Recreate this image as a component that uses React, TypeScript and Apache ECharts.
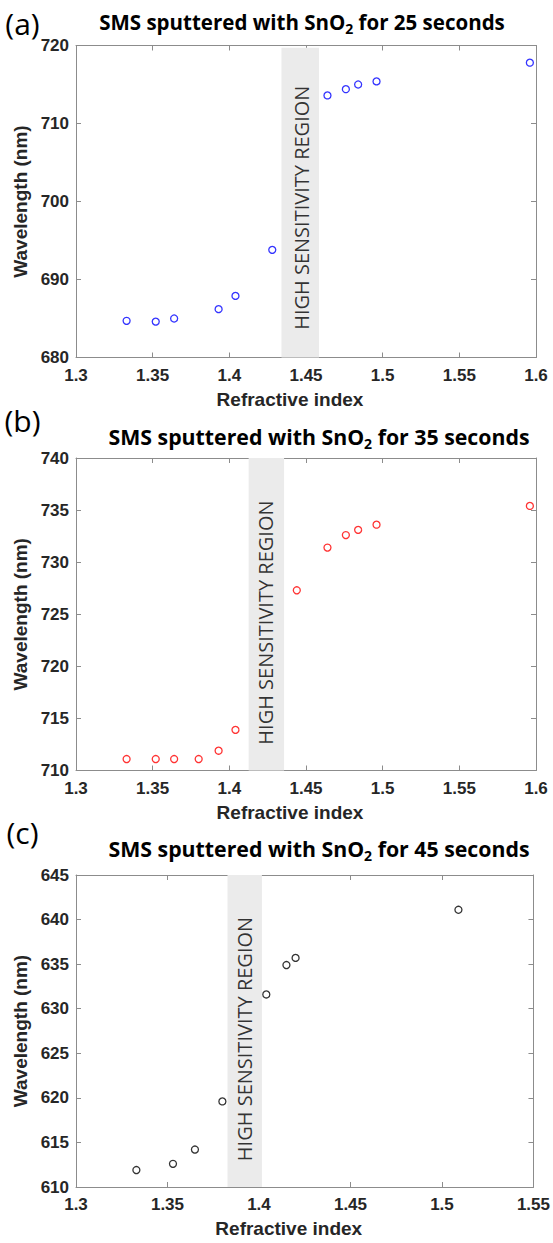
import React, { useEffect, useRef } from "react";
import * as echarts from "echarts";

// Panel (a): 25 s
const X_A = [1.333, 1.352, 1.364, 1.393, 1.404, 1.428, 1.464, 1.476, 1.484, 1.496, 1.596];
const Y_A = [684.7, 684.6, 685.0, 686.2, 687.9, 693.8, 713.6, 714.4, 715.0, 715.4, 717.8];
// Panel (b): 35 s
const X_B = [1.333, 1.352, 1.364, 1.38, 1.393, 1.404, 1.444, 1.464, 1.476, 1.484, 1.496, 1.596];
const Y_B = [711.1, 711.1, 711.1, 711.1, 711.9, 713.9, 727.3, 731.4, 732.6, 733.1, 733.6, 735.4];
// Panel (c): 45 s
const X_C = [1.333, 1.353, 1.365, 1.38, 1.404, 1.415, 1.42, 1.509];
const Y_C = [611.9, 612.6, 614.2, 619.6, 631.6, 634.9, 635.7, 641.1];

const SHADE_A = [1.434, 1.4585];
const SHADE_B = [1.4126, 1.4357];
const SHADE_C = [1.3828, 1.4016];

const LABEL_POS_A = [1.4473, 699.2];
const LABEL_POS_B = [1.4239, 724.2];
const LABEL_POS_C = [1.3923, 626.6];

const PANEL_LABELS = ["(a)", "(b)", "(c)"];
const SECONDS = ["25", "35", "45"];
const REGION_TEXT = "HIGH SENSITIVITY REGION";
const X_NAME = "Refractive index";
const Y_NAME = "Wavelength (nm)";

const X_RANGES = [
  [1.3, 1.6, 0.05],
  [1.3, 1.6, 0.05],
  [1.3, 1.55, 0.05],
];
const Y_RANGES = [
  [680, 720, 10],
  [710, 740, 5],
  [610, 645, 5],
];

const COLORS = ["#0000ff", "#ff0000", "#000000"];

export default function App() {
  const ref = useRef<HTMLDivElement>(null);
  useEffect(() => {
    if (!ref.current) return;
    const chart = echarts.init(ref.current, undefined, { renderer: "svg" });
    const AX = "#8c8c8c";
    const LBL = "#262626";
    const grids = [
      { left: 76, top: 45.5, width: 460, height: 312 },
      { left: 76, top: 458, width: 460, height: 312.5 },
      { left: 76, top: 875, width: 460, height: 312 },
    ];
    const xs = [X_A, X_B, X_C];
    const ys = [Y_A, Y_B, Y_C];
    const shades = [SHADE_A, SHADE_B, SHADE_C];
    const labelPos = [LABEL_POS_A, LABEL_POS_B, LABEL_POS_C];
    const shadeTop = [719.7, 740, 645];

    const xAxis: any[] = [];
    const yAxis: any[] = [];
    const series: any[] = [];
    grids.forEach((g, i) => {
      const [xmin, xmax, xint] = X_RANGES[i];
      const [ymin, ymax, yint] = Y_RANGES[i];
      const common = {
        gridIndex: i,
        type: "value",
        splitLine: { show: false },
        axisLine: { show: true, onZero: false, lineStyle: { color: AX, width: 1 } },
        axisTick: { show: true, inside: true, length: 5, lineStyle: { color: AX } },
      };
      xAxis.push({
        ...common,
        position: "bottom",
        min: xmin,
        max: xmax,
        interval: xint,
        name: X_NAME,
        nameLocation: "middle",
        nameGap: 32,
        nameTextStyle: {
          fontSize: 19,
          fontWeight: "bold",
          color: LBL,
          fontFamily: "Liberation Sans",
          padding: [0, 32, 0, 0],
        },
        axisLabel: {
          fontSize: 17,
          fontWeight: "bold",
          color: LBL,
          fontFamily: "Liberation Sans",
          margin: 9,
          formatter: (v: number) => String(Math.round(v * 100) / 100),
        },
      });
      xAxis.push({
        ...common,
        position: "top",
        min: xmin,
        max: xmax,
        interval: xint,
        axisLabel: { show: false },
      });
      yAxis.push({
        ...common,
        position: "left",
        min: ymin,
        max: ymax,
        interval: yint,
        name: Y_NAME,
        nameLocation: "middle",
        nameGap: 36,
        nameTextStyle: {
          fontSize: 19,
          fontWeight: "bold",
          color: LBL,
          fontFamily: "Liberation Sans",
        },
        axisLabel: {
          fontSize: 17,
          fontWeight: "bold",
          color: LBL,
          fontFamily: "Liberation Sans",
          margin: 7,
        },
      });
      yAxis.push({
        ...common,
        position: "right",
        min: ymin,
        max: ymax,
        interval: yint,
        axisLabel: { show: false },
      });

      series.push({
        type: "scatter",
        xAxisIndex: 2 * i,
        yAxisIndex: 2 * i,
        data: xs[i].map((x, k) => [x, ys[i][k]]),
        symbol: "circle",
        symbolSize: 7,
        itemStyle: { color: "rgba(0,0,0,0)", borderColor: COLORS[i], borderWidth: 1.3 },
        silent: true,
        z: 5,
        markArea: {
          silent: true,
          itemStyle: { color: "#ebebeb" },
          data: [
            [
              { coord: [shades[i][0], ymin] },
              { coord: [shades[i][1], shadeTop[i]] },
            ],
          ],
        },
      });
      series.push({
        type: "scatter",
        xAxisIndex: 2 * i,
        yAxisIndex: 2 * i,
        data: [labelPos[i]],
        symbolSize: 0,
        silent: true,
        z: 6,
        label: {
          show: true,
          position: "inside",
          rotate: 90,
          formatter: REGION_TEXT,
          fontSize: 20,
          fontFamily: "Open Sans",
          color: "#000",
        },
      });
    });

    const titleCenters = [
      [302, 21.5, 20.5],
      [319, 436, 21.3],
      [319, 848, 21.3],
    ];
    const labelCenters = [
      [22.5, 23],
      [22.5, 420],
      [22.5, 832],
    ];
    const graphic: any[] = [];
    titleCenters.forEach(([cx, cy, fs], i) => {
      graphic.push({
        type: "text",
        x: cx,
        y: cy,
        silent: true,
        style: {
          text: `{b|SMS sputtered with SnO}{s|2}{b| for ${SECONDS[i]} seconds}`,
          align: "center",
          verticalAlign: "middle",
          rich: {
            b: {
              fontSize: fs,
              fontWeight: "bold",
              fontFamily: "Open Sans",
              color: "#000",
              lineHeight: 28,
            },
            s: {
              fontSize: 14,
              fontWeight: "bold",
              fontFamily: "Open Sans",
              color: "#000",
              lineHeight: 14,
              verticalAlign: "bottom",
            },
          },
        },
      });
    });
    labelCenters.forEach(([cx, cy], i) => {
      graphic.push({
        type: "text",
        x: cx,
        y: cy,
        silent: true,
        style: {
          text: PANEL_LABELS[i],
          align: "center",
          verticalAlign: "middle",
          fontSize: 30,
          fontFamily: "Open Sans",
          fill: "#000",
        },
      });
    });

    chart.setOption({
      animation: false,
      backgroundColor: "#ffffff",
      grid: grids,
      xAxis,
      yAxis,
      series,
      graphic,
    });
    return () => chart.dispose();
  }, []);
  return (
    <div
      ref={ref}
      style={{ position: "absolute", left: 0, top: 0, width: 553, height: 1243 }}
    />
  );
}
